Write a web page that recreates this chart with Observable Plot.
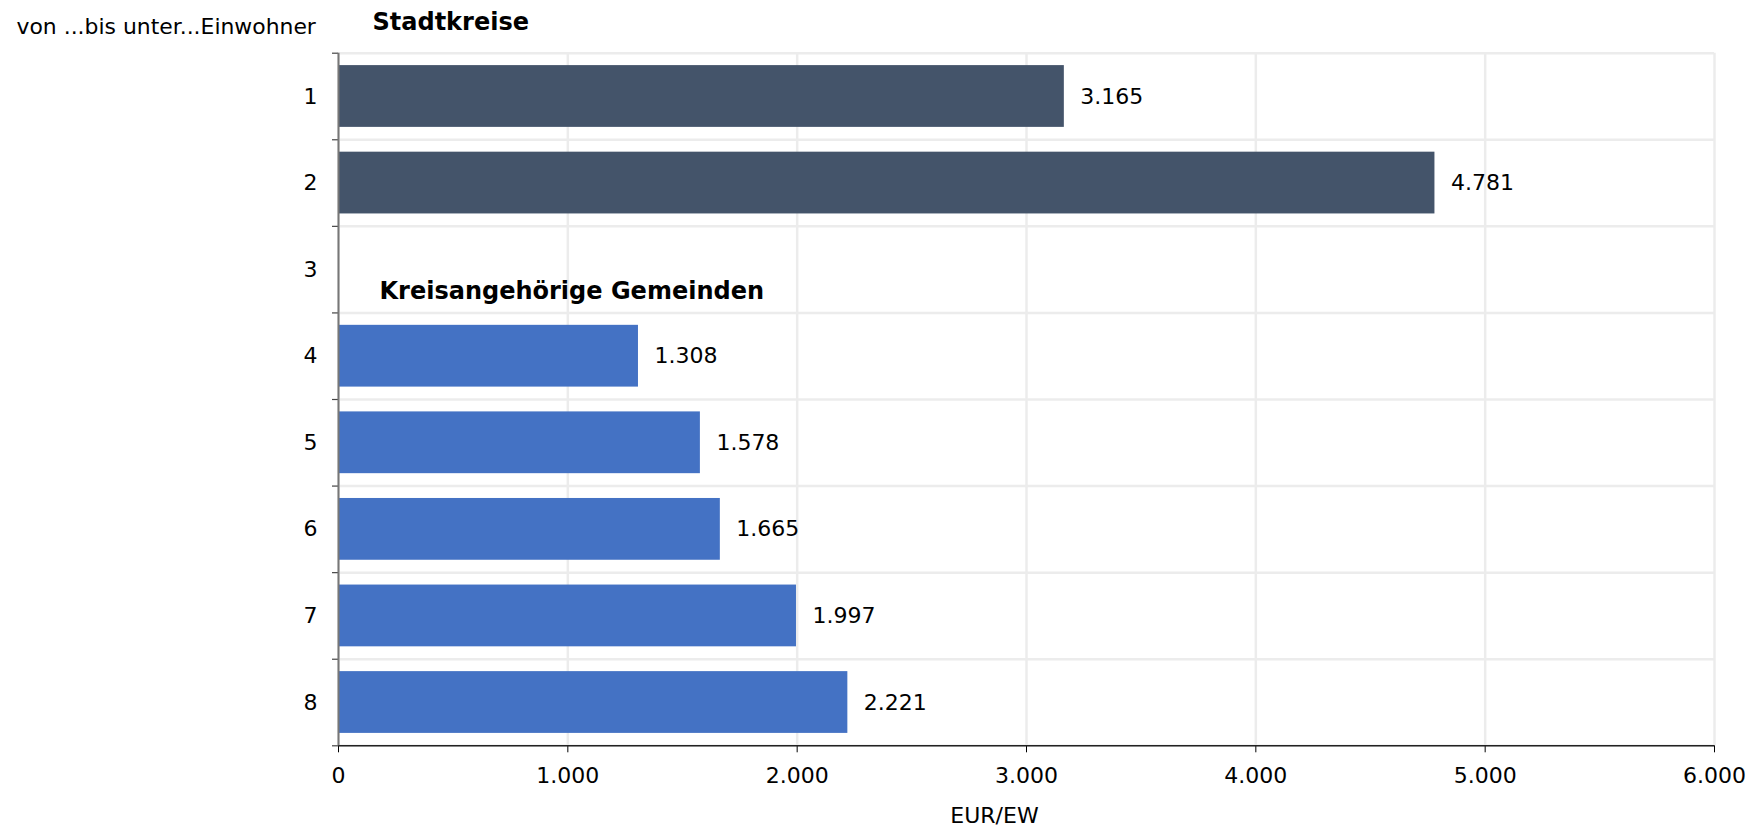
<!DOCTYPE html>
<html>
<head>
<meta charset="utf-8">
<script src="https://cdn.jsdelivr.net/npm/d3@7"></script>
<script src="https://cdn.jsdelivr.net/npm/@observablehq/plot@0.6"></script>
<style>
  html, body { margin: 0; padding: 0; background: #fff; }
  #chart svg { display: block; }
</style>
</head>
<body>
<div id="chart"></div>
<script>
// ---- data ----
const categories = ["1", "2", "3", "4", "5", "6", "7", "8"];
const values = [3165, 4781, null, 1308, 1578, 1665, 1997, 2221];
const groups = ["Stadtkreise", "Stadtkreise", null,
  "Kreisangehörige Gemeinden", "Kreisangehörige Gemeinden", "Kreisangehörige Gemeinden",
  "Kreisangehörige Gemeinden", "Kreisangehörige Gemeinden"];
const xTicks = [0, 1000, 2000, 3000, 4000, 5000, 6000];
const yAxisTitle = "von ...bis unter...Einwohner";
const xAxisTitle = "EUR/EW";
const groupTitleTop = "Stadtkreise";
const groupTitleMid = "Kreisangehörige Gemeinden";
const groupTitleMidRank = 3;

// ---- build rows ----
const rows = categories.map((c, i) => ({cat: c, rank: i + 1, value: values[i], group: groups[i]}));
const barRows = rows.filter(d => d.value != null);
const ranks = rows.map(d => d.rank);
const boundaries = [0].concat(ranks).map(r => r + 0.5);

const de = d3.formatLocale({decimal: ",", thousands: ".", grouping: [3], currency: ["", " €"]});
const fmt = de.format(",d");
const colors = {"Stadtkreise": "#44546A", "Kreisangehörige Gemeinden": "#4472C4"};

const W = 1755, H = 826;
const mTop = 52.7, mBottom = 80.7, mLeft = 338, mRight = 41;

const chart = Plot.plot({
  width: W,
  height: H,
  marginTop: mTop,
  marginBottom: mBottom,
  marginLeft: mLeft,
  marginRight: mRight,
  style: {fontFamily: "'DejaVu Sans', Verdana, sans-serif", fontSize: "22px", color: "#000", background: "#fff"},
  x: {domain: [0, 6000], label: null},
  y: {domain: [0.5, 8.5], reverse: true, label: null},
  marks: [
    Plot.gridX({ticks: xTicks, stroke: "#ececec", strokeOpacity: 1, strokeWidth: 2.5}),
    Plot.gridY(boundaries, {stroke: "#ececec", strokeOpacity: 1, strokeWidth: 2.5}),
    Plot.rectX(barRows, {
      x1: 0, x2: "value",
      y1: d => d.rank - 0.5, y2: d => d.rank + 0.5,
      insetTop: 12.4, insetBottom: 12.4,
      fill: d => colors[d.group]
    }),
    Plot.text(barRows, {
      x: "value", y: "rank", text: d => fmt(d.value),
      textAnchor: "start", dx: 16, fontSize: 22, fill: "#000"
    }),
    Plot.axisY({ticks: boundaries, tickSize: 6, tickFormat: () => "", stroke: "#444", strokeWidth: 1.2, label: null}),
    Plot.axisY({ticks: ranks, tickSize: 0, tickPadding: 21, tickFormat: r => categories[r - 1], fontSize: 22, fill: "#000", label: null}),
    Plot.axisX({ticks: xTicks, tickSize: 7, tickPadding: 15, tickFormat: fmt, fontSize: 22, fill: "#000", stroke: "#000", label: null}),
    Plot.ruleY([8.5], {stroke: "#222", strokeWidth: 1.5}),
    Plot.ruleX([0], {stroke: "#777", strokeWidth: 2}),
    Plot.text([groupTitleMid], {
      x: 0, y: groupTitleMidRank, text: d => d,
      textAnchor: "start", lineAnchor: "bottom", dx: 41, dy: 29,
      fontSize: 24, fontWeight: "bold", fill: "#000"
    }),
    Plot.text([groupTitleTop], {
      frameAnchor: "top-left", text: d => d,
      textAnchor: "start", lineAnchor: "bottom", dx: 34, dy: -23.4,
      fontSize: 24, fontWeight: "bold", fill: "#000"
    }),
    Plot.text([yAxisTitle], {
      frameAnchor: "top-left", text: d => d,
      textAnchor: "start", lineAnchor: "bottom", dx: 16 - mLeft, dy: 33.3 - mTop,
      fontSize: 21.9, fill: "#000"
    }),
    Plot.text([xAxisTitle], {
      frameAnchor: "bottom", text: d => d,
      textAnchor: "middle", lineAnchor: "bottom", dx: 994 - (mLeft + (W - mLeft - mRight) / 2), dy: 822 - (H - mBottom),
      fontSize: 22, fill: "#000"
    })
  ]
});

document.getElementById("chart").appendChild(chart);
</script>
</body>
</html>
